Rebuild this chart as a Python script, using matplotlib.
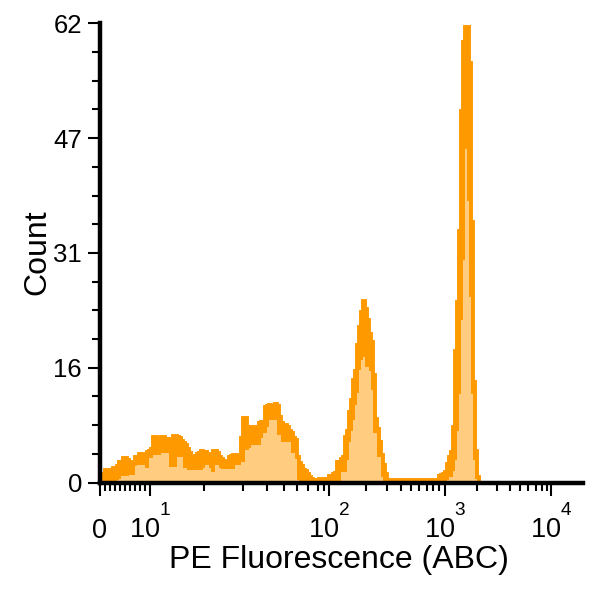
import numpy as np
import matplotlib
matplotlib.use("Agg")
import matplotlib.pyplot as plt
from matplotlib.ticker import FixedLocator, NullFormatter

plt.rcParams['font.family'] = ['Liberation Sans', 'DejaVu Sans']
plt.rcParams['mathtext.fontset'] = 'custom'
plt.rcParams['mathtext.rm'] = 'Liberation Sans'

# raise the exponents a bit more, like the original labels
try:
    import matplotlib._mathtext as _mt
    _mt.FontConstantsBase.sup1 = 1.5
except Exception:
    pass

# histogram channels (2 display units wide), counts
# upper = top of the orange trace, lower = top of the light fill
n_channels = 190
upper = [
    1.09, 1.09, 1.69, 1.69, 1.69, 1.5, 1.91, 1.91, 2.2, 2.81,
    2.81, 3.35, 3.35, 3.0, 2.81, 2.45, 2.45, 3.49, 3.49, 3.89,
    3.89, 3.8, 3.76, 4.1, 4.3, 4.5, 6.19, 6.19, 5.8, 5.51,
    6.19, 6.19, 5.92, 5.92, 5.92, 5.92, 6.32, 6.32, 6.2, 6.05,
    5.6, 5.28, 5.0, 4.57, 4.0, 3.26, 3.26, 3.6, 3.81, 4.0,
    4.26, 4.07, 4.07, 3.89, 3.6, 3.26, 4.26, 4.26, 3.93, 3.5,
    3.18, 2.9, 2.81, 2.72, 3.4, 3.62, 3.72, 3.72, 3.6, 3.22,
    6.0, 8.66, 8.66, 7.41, 7.5, 7.54, 7.54, 7.54, 7.54, 8.0,
    8.22, 8.22, 10.24, 10.3, 10.47, 10.2, 10.01, 10.54, 10.3, 8.89,
    7.99, 7.8, 7.77, 7.5, 7.0, 6.64, 6.0, 5.74, 3.5, 2.6,
    2.2, 1.7, 1.6, 1.2, 0.7, 0.5, 0.34, 0.34, 0.4, 0.47,
    0.47, 0.47, 0.34, 0.5, 0.88, 0.88, 1.2, 1.32, 2.81, 2.81,
    3.2, 3.49, 6.19, 7.0, 9.5, 11.19, 13.89, 15.0, 18.5, 21.05,
    23.08, 24.57, 23.49, 22.0, 20.11, 19.03, 14.57, 8.62, 7.27, 5.5,
    3.76, 2.36, 1.19, 0.38, 0.3, 0.3, 0.3, 0.3, 0.3, 0.4,
    0.4, 0.3, 0.3, 0.3, 0.3, 0.3, 0.3, 0.3, 0.3, 0.3,
    0.3, 0.4, 0.4, 0.3, 0.3, 0.3, 0.3, 0.3, 0.4, 0.88,
    1.0, 1.15, 1.46, 2.5, 3.49, 4.16, 7.5, 17.7, 24.4, 33.9,
    50.1, 59.5, 61.5, 61.5, 56.6, 35.2, 13.6, 4.2, 0.8, 0.3,
]
lower = [
    0, 0, 0, 0, 0, 0, 0.2, 0.2, 0.3, 0.5,
    0.85, 0.85, 0.85, 0.85, 0.99, 0.99, 0.99, 2.34, 2.34, 2.34,
    2.34, 2.34, 1.93, 1.93, 3.28, 3.28, 3.69, 3.69, 3.69, 3.69,
    3.96, 3.96, 3.96, 3.96, 2.07, 2.07, 2.07, 2.07, 3.42, 3.42,
    3.42, 1.93, 1.93, 1.66, 1.66, 1.66, 1.66, 1.66, 1.66, 1.66,
    1.66, 2.0, 2.34, 2.34, 2.0, 1.43, 1.43, 2.34, 2.34, 2.0,
    1.76, 1.76, 1.76, 1.76, 1.76, 1.76, 1.76, 2.34, 2.34, 2.34,
    2.78, 2.78, 4.36, 4.36, 4.7, 5.04, 5.04, 5.04, 5.04, 5.04,
    6.0, 6.62, 6.62, 7.5, 8.42, 8.42, 8.42, 8.42, 6.39, 6.39,
    5.49, 5.49, 5.49, 5.49, 5.49, 3.92, 3.92, 3.92, 0.31, 0,
    0, 0, 0, 0, 0, 0, 0, 0, 0, 0,
    0, 0, 0, 0, 0, 0, 0, 0, 0, 0,
    1.43, 1.43, 1.43, 3.0, 5.49, 7.0, 8.42, 10.5, 12.03, 15.18,
    16.5, 16.97, 15.6, 15.6, 15.0, 12.47, 6.62, 6.62, 3.46, 3.46,
    0.76, 0.2, 0, 0, 0, 0, 0, 0, 0, 0,
    0, 0, 0, 0, 0, 0, 0, 0, 0, 0,
    0, 0, 0, 0, 0, 0, 0, 0, 0, 0,
    0, 0, 0, 0.3, 0.76, 0.76, 1.5, 3.0, 7.0, 12.0,
    22.0, 30.0, 45.0, 38.0, 25.0, 12.0, 3.0, 0.5, 0, 0,
]

x_major = [0, 10, 100, 1000, 10000]
x_major_labels = ['0', r'$\mathregular{10^{1}}$', r'$\mathregular{10^{2}}$',
                  r'$\mathregular{10^{3}}$', r'$\mathregular{10^{4}}$']
y_major = [0, 15.5, 31, 46.5, 62]
y_major_labels = ['0', '16', '31', '47', '62']

# axis scale: linear 0..10, then (calibrated) log decades
abc_anchor = np.array([0, 10, 20, 30, 40, 50, 60, 70, 80, 90, 100,
                       200, 300, 400, 500, 600, 700, 800, 900, 1000,
                       2000, 3000, 4000, 5000, 6000, 7000, 8000, 9000, 10000, 20000])
pos_anchor = np.array([0, 50.5, 104.5, 143.5, 167.5, 184, 197.5, 208.5, 218.5, 224.5, 229.5,
                       266.5, 287.5, 301.5, 311.5, 319.5, 327.5, 333.5, 339.5, 345.5,
                       377.5, 397.5, 410.5, 420.5, 428.5, 436.5, 442.5, 447.5, 451.5, 483.5])


def _g(x):
    x = np.clip(np.asarray(x, dtype=float), 0, None)
    return np.where(x <= 10, x / 10, np.log10(np.maximum(x, 10)))


g_anchor = _g(abc_anchor)


def forward(x):
    return np.interp(_g(x), g_anchor, pos_anchor)


def inverse(p):
    g = np.interp(np.asarray(p, dtype=float), pos_anchor, g_anchor)
    return np.where(g <= 1, g * 10, 10 ** g)


edges = inverse(1.5 + 2 * np.arange(n_channels + 1))

orange = '#FF9900'
light = '#FFCC80'

fig = plt.figure(figsize=(6, 6), dpi=100)
ax = fig.add_axes([99.5 / 600, 1 - 482.5 / 600, 483.5 / 600, 459.2 / 600])
ax.set_xscale('function', functions=(forward, inverse))

ax.stairs(lower, edges, fill=True, color=light, lw=0)
ax.stairs(upper, edges, baseline=lower, fill=True, color=orange, lw=0)
ax.stairs(upper, edges, baseline=None, color=orange, lw=2.8)

ax.set_xlim(0, 20000)
ax.set_ylim(0, 62)

for s in ['top', 'right']:
    ax.spines[s].set_visible(False)
for s in ['left', 'bottom']:
    ax.spines[s].set_linewidth(3.2)

ax.set_xticks(x_major, x_major_labels)
minor = [m * 10 ** d for d in range(4) for m in range(1 if d == 0 else 2, 10)]
ax.xaxis.set_minor_locator(FixedLocator(minor))
ax.xaxis.set_minor_formatter(NullFormatter())
ax.set_yticks(y_major, y_major_labels)
ax.yaxis.set_minor_locator(FixedLocator(np.arange(0, 62.1, 3.875)))

ax.tick_params(axis='both', which='major', length=9, width=1.5, direction='out')
ax.tick_params(axis='both', which='minor', length=5.5, width=1.5, direction='out')
ax.tick_params(axis='x', which='major', labelsize=19.5, pad=31)
ax.tick_params(axis='y', which='major', labelsize=18.5, pad=3.6)
for lbl in ax.get_xticklabels():
    lbl.set_verticalalignment('baseline')

ax.set_xlabel('PE Fluorescence (ABC)', fontsize=23, va='baseline')
ax.xaxis.set_label_coords(0.4953, -0.1862)
ax.set_ylabel('Count', fontsize=23, va='baseline')
ax.yaxis.set_label_coords(-0.1127, 0.501)

fig.savefig('out.png', dpi=100)
